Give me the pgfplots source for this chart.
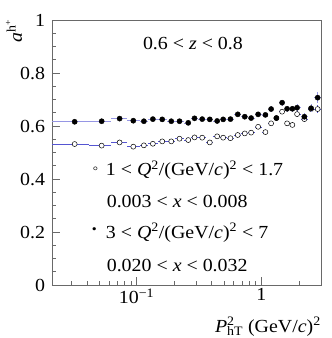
\documentclass[border=0pt]{standalone}
\usepackage{fontspec}
\setmainfont{Liberation Serif}[FakeStretch=1.08]
\usepackage{pgfplots}
\usepackage{pgfplotstable}
\pgfplotsset{compat=1.18}

\definecolor{barA}{RGB}{150,150,228}
\definecolor{barB}{RGB}{85,85,210}
\definecolor{frame}{RGB}{105,105,105}

% x = mean P_hT^2 of the bin, xm/xp = distance to the bin edges
% yf/ef = 3<Q2<7 (filled), yo/eo = 1<Q2<1.7 (open)
\pgfplotstableread{
x      xm     xp     yf    ef    yo    eo
0.0319 0.0109 0.0096 0.616 0.004 0.532 0.004
0.0525 0.0110 0.0094 0.618 0.004 0.526 0.004
0.0731 0.0112 0.0112 0.628 0.004 0.538 0.004
0.0941 0.0098 0.0116 0.620 0.004 0.522 0.004
0.1144 0.0087 0.0099 0.618 0.004 0.527 0.004
0.1350 0.0107 0.0122 0.626 0.004 0.533 0.004
0.1605 0.0133 0.0139 0.625 0.004 0.542 0.004
0.1895 0.0151 0.0153 0.618 0.004 0.542 0.004
0.2208 0.0160 0.0181 0.618 0.004 0.552 0.004
0.2592 0.0203 0.0157 0.612 0.004 0.547 0.004
0.2911 0.0162 0.0217 0.629 0.004 0.557 0.004
0.3354 0.0226 0.0243 0.626 0.004 0.556 0.004
0.3858 0.0261 0.0272 0.625 0.004 0.538 0.004
0.4420 0.0290 0.0252 0.619 0.004 0.561 0.004
0.4938 0.0266 0.0348 0.625 0.005 0.556 0.004
0.5649 0.0363 0.0397 0.626 0.005 0.554 0.004
0.6462 0.0416 0.0433 0.644 0.006 0.566 0.005
0.7355 0.0460 0.0443 0.635 0.006 0.572 0.005
0.8270 0.0472 0.0552 0.630 0.006 0.575 0.005
0.9410 0.0588 0.0664 0.644 0.007 0.597 0.006
1.0764 0.0690 0.0591 0.642 0.007 0.577 0.006
1.1958 0.0603 0.0607 0.664 0.010 0.610 0.007
1.3183 0.0618 0.0722 0.630 0.008 0.630 0.008
1.4643 0.0738 0.0690 0.688 0.012 0.654 0.008
1.6055 0.0722 0.0819 0.665 0.012 0.610 0.009
1.7701 0.0827 0.0803 0.665 0.012 0.604 0.009
1.9301 0.0797 0.1367 0.669 0.013 0.645 0.010
2.2080 0.1412 0.1425 0.635 0.014 0.626 0.012
2.4989 0.1484 0.1557 0.667 0.016 0.664 0.013
2.8210 0.1664 0.1790 0.707 0.022 0.664 0.015
}\bins

\begin{document}
\begin{tikzpicture}[font=\fontsize{18.5}{21}\selectfont]
\begin{axis}[
    scale only axis,
    width=269bp, height=265bp,
    xmode=log, log basis x=10,
    xmin=0.021, xmax=3,
    ymin=0, ymax=1,
    xtick={0.1,1},
    xticklabels={10\textsuperscript{−1},1},
    minor xtick={0.03,0.04,0.05,0.06,0.07,0.08,0.09,0.2,0.3,0.4,0.5,0.6,0.7,0.8,0.9,2,3},
    ytick={0,0.2,0.4,0.6,0.8,1},
    minor y tick num=3,
    tick align=inside,
    xtick pos=bottom, ytick pos=left,
    major tick length=8bp, minor tick length=4.5bp,
    axis line style={frame, line width=0.8bp},
    tick style={frame, line width=0.6bp},
    yticklabel style={xshift=-3.5bp},
    /pgf/number format/assume math mode=true,
    clip mode=individual,
]
\addplot[only marks, mark=*, mark size=2.5bp,
    mark options={fill=white, draw=black, line width=0.5bp},
    error bars/.cd, x dir=both, x explicit, y dir=both, y explicit,
    error mark=none, error bar style={barB, line width=0.6bp}]
    table[x=x, y=yo, x error minus=xm, x error plus=xp, y error=eo] {\bins};
\addplot[only marks, mark=*, mark size=2.6bp,
    mark options={fill=black, draw=black},
    error bars/.cd, x dir=both, x explicit, y dir=both, y explicit,
    error mark=none, error bar style={barA, line width=0.6bp}]
    table[x=x, y=yf, x error minus=xm, x error plus=xp, y error=ef] {\bins};

\node[anchor=center] at (axis description cs:0.524,0.913) {0.6 < \textit{z} < 0.8};
\node[inner sep=0, font=\fontsize{15}{16}\selectfont] at (axis description cs:0.162,0.432) {◦};
\node[anchor=west, inner sep=0] at (axis description cs:0.2,0.434)
    {1 < \textit{Q}\textsuperscript{2}/(GeV/\textit{c})\textsuperscript{2} < 1.7};
\node[anchor=west, inner sep=0] at (axis description cs:0.203,0.314) {0.003 < \textit{x} < 0.008};
\node[inner sep=0, font=\fontsize{13}{14}\selectfont] at (axis description cs:0.157,0.204) {•};
\node[anchor=west, inner sep=0] at (axis description cs:0.2,0.197)
    {3 < \textit{Q}\textsuperscript{2}/(GeV/\textit{c})\textsuperscript{2} < 7};
\node[anchor=west, inner sep=0] at (axis description cs:0.203,0.075) {0.020 < \textit{x} < 0.032};

\node[anchor=east, inner sep=0] at (axis description cs:1.0,-0.157)
    {\textit{P}\rlap{\textsuperscript{2}}\textsubscript{hT} (GeV/\textit{c})\textsuperscript{2}};
\node[rotate=90, inner sep=0] at (axis description cs:-0.141,0.959)
    {\textit{a}\textsuperscript{h\textsuperscript{+}}};

\coordinate (bbl) at (axis description cs:-0.1933,-0.2);
\coordinate (btr) at (axis description cs:1.0409,1.0755);
\end{axis}
\pgfresetboundingbox
\path (bbl) rectangle (btr);
\end{tikzpicture}
\end{document}
